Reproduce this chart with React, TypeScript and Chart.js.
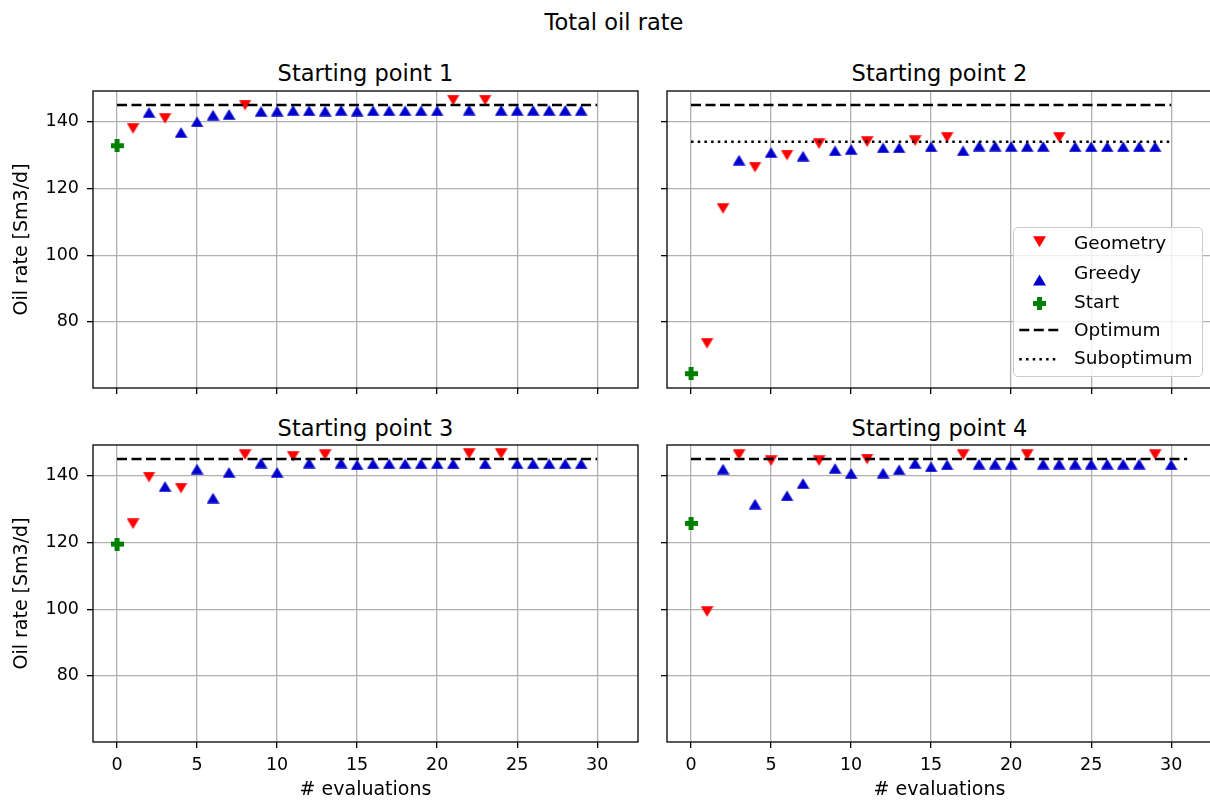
import { useEffect, useRef } from 'react';
import { Chart, registerables } from 'chart.js';

Chart.register(...registerables);

const FONT = '"DejaVu Sans", "Liberation Sans", sans-serif';

// ---- data ----
const figureTitle = 'Total oil rate';
const panelTitles = ['Starting point 1', 'Starting point 2', 'Starting point 3', 'Starting point 4'];
const seriesLabels = ['Geometry', 'Greedy', 'Start', 'Optimum', 'Suboptimum'];
const xAxisLabel = '# evaluations';
const yAxisLabel = 'Oil rate [Sm3/d]';

const xTicks = [0, 5, 10, 15, 20, 25, 30];
const yTicks = [80, 100, 120, 140];
const xLimits = [-1.5, 32.55];
const yLimits = [60.2, 149.2];

const optimumRate = 145.0;
const suboptimumRate = 134.0;

// S = start, G = geometry, R = greedy (one letter per evaluation)
const p1Kinds = 'SGRGRRRRGRRRRRRRRRRRRGRGRRRRRR'.split('');
const p1Values = [132.8, 138.0, 142.8, 141.0, 136.8, 140.0, 142.0, 142.2, 145.0, 143.1, 143.2, 143.4, 143.3, 143.2, 143.4, 143.2, 143.3, 143.3, 143.3, 143.3, 143.3, 146.5, 143.5, 146.5, 143.4, 143.4, 143.4, 143.4, 143.4, 143.4];

const p2Kinds = 'SGGRGRGRGRRGRRGRGRRRRRRGRRRRRR'.split('');
const p2Values = [64.5, 73.6, 114.0, 128.5, 126.4, 130.8, 130.0, 129.7, 133.4, 131.3, 131.7, 134.0, 132.2, 132.2, 134.3, 132.5, 135.3, 131.3, 132.7, 132.7, 132.6, 132.6, 132.6, 135.3, 132.5, 132.5, 132.5, 132.5, 132.5, 132.5];

const p3Kinds = 'SGGRGRRRGRRGRGRRRRRRRRGRGRRRRR'.split('');
const p3Values = [119.5, 125.6, 139.6, 136.8, 136.3, 142.0, 133.3, 141.0, 146.3, 143.8, 141.0, 145.8, 143.8, 146.3, 143.8, 143.3, 143.6, 143.6, 143.6, 143.6, 143.6, 143.6, 146.6, 143.6, 146.6, 143.6, 143.6, 143.6, 143.6, 143.6];

const p4Kinds = 'SGRGRGRRGRRGRRRRRGRRRGRRRRRRRGR'.split('');
const p4Values = [125.7, 99.3, 142.0, 146.3, 131.5, 144.5, 134.0, 137.7, 144.5, 142.2, 140.7, 145.0, 140.8, 141.8, 143.7, 142.7, 143.3, 146.3, 143.5, 143.5, 143.5, 146.3, 143.5, 143.5, 143.5, 143.5, 143.5, 143.5, 143.5, 146.3, 143.3];

// ---- layout / style ----
const RED = '#ff0000';
const BLUE = '#0000cd';
const GREEN = '#008000';
const GRID = '#b0b0b0';

const panels = [
  { values: p1Values, kinds: p1Kinds, sub: null as number | null, left: 0, top: 71, width: 658, height: 337, yw: 93, xh: 20, showX: false, showY: true },
  { values: p2Values, kinds: p2Kinds, sub: suboptimumRate as number | null, left: 647, top: 71, width: 585, height: 337, yw: 20, xh: 20, showX: false, showY: false },
  { values: p3Values, kinds: p3Kinds, sub: null as number | null, left: 0, top: 425, width: 658, height: 376, yw: 93, xh: 59, showX: true, showY: true },
  { values: p4Values, kinds: p4Kinds, sub: null as number | null, left: 647, top: 425, width: 585, height: 376, yw: 20, xh: 59, showX: true, showY: false },
];

function makeMarker(shape: string, color: string): HTMLCanvasElement {
  const c = document.createElement('canvas');
  if (shape === 'plus') {
    c.width = 13; c.height = 13;
  } else {
    c.width = 13; c.height = 11;
  }
  const ctx = c.getContext('2d')!;
  ctx.fillStyle = color;
  if (shape === 'plus') {
    ctx.fillRect(0, 4, 13, 5);
    ctx.fillRect(4, 0, 5, 13);
  } else {
    ctx.beginPath();
    if (shape === 'up') {
      ctx.moveTo(6.5, 0.2); ctx.lineTo(12.8, 10.8); ctx.lineTo(0.2, 10.8);
    } else {
      ctx.moveTo(0.2, 0.2); ctx.lineTo(12.8, 0.2); ctx.lineTo(6.5, 10.8);
    }
    ctx.closePath();
    ctx.fill();
  }
  return c;
}

const framePlugin = {
  id: 'frame',
  afterDraw(chart: any) {
    const { ctx, chartArea } = chart;
    ctx.save();
    ctx.strokeStyle = '#000';
    ctx.lineWidth = 1.3;
    ctx.strokeRect(chartArea.left, chartArea.top, chartArea.right - chartArea.left, chartArea.bottom - chartArea.top);
    ctx.restore();
  },
};

function buildConfig(p: typeof panels[number], markers: Record<string, HTMLCanvasElement>): any {
  const n = p.values.length;
  const pts = (k: string) => p.values.map((v, i) => (p.kinds[i] === k ? { x: i, y: v } : null)).filter(Boolean);
  const datasets: any[] = [
    {
      label: seriesLabels[3],
      data: [{ x: 0, y: optimumRate }, { x: n, y: optimumRate }],
      showLine: true, borderColor: '#000', borderWidth: 2.5, borderDash: [10, 4.5], pointRadius: 0,
    },
  ];
  if (p.sub !== null) {
    datasets.push({
      label: seriesLabels[4],
      data: [{ x: 0, y: p.sub }, { x: n, y: p.sub }],
      showLine: true, borderColor: '#000', borderWidth: 2.5, borderDash: [2.5, 4.2], pointRadius: 0,
    });
  }
  datasets.push(
    { label: seriesLabels[0], data: pts('G'), pointStyle: markers.down, pointRadius: 6, showLine: false, backgroundColor: RED, borderColor: RED },
    { label: seriesLabels[1], data: pts('R'), pointStyle: markers.up, pointRadius: 6, showLine: false, backgroundColor: BLUE, borderColor: BLUE },
    { label: seriesLabels[2], data: pts('S'), pointStyle: markers.plus, pointRadius: 6, showLine: false, backgroundColor: GREEN, borderColor: GREEN },
  );
  return {
    type: 'scatter',
    data: { datasets },
    plugins: [framePlugin],
    options: {
      responsive: false,
      animation: false,
      events: [],
      layout: { padding: { left: 0, top: 20, right: 20, bottom: 0 } },
      plugins: { legend: { display: false }, tooltip: { enabled: false }, title: { display: false } },
      scales: {
        x: {
          type: 'linear',
          min: xLimits[0],
          max: xLimits[1],
          afterBuildTicks: (s: any) => { s.ticks = xTicks.map((v) => ({ value: v })); },
          afterFit: (s: any) => { s.height = p.xh; },
          border: { display: false },
          grid: { color: GRID, lineWidth: 1.3, tickColor: '#000', tickWidth: 1.3, tickLength: 6, drawTicks: true },
          ticks: { display: p.showX, color: '#000', font: { family: FONT, size: 17.5 }, padding: 7, maxRotation: 0, autoSkip: false },
          title: { display: p.showX, text: xAxisLabel, color: '#000', font: { family: FONT, size: 19 }, padding: { top: 0, bottom: 0 } },
        },
        y: {
          type: 'linear',
          min: yLimits[0],
          max: yLimits[1],
          afterBuildTicks: (s: any) => { s.ticks = yTicks.map((v) => ({ value: v })); },
          afterFit: (s: any) => { s.width = p.yw; },
          border: { display: false },
          grid: { color: GRID, lineWidth: 1.3, tickColor: '#000', tickWidth: 1.3, tickLength: 6, drawTicks: true },
          ticks: { display: p.showY, color: '#000', font: { family: FONT, size: 17.5 }, padding: 8, autoSkip: false },
          title: { display: p.showY, text: yAxisLabel, color: '#000', font: { family: FONT, size: 19 }, padding: { top: 11, bottom: 0 } },
        },
      },
    },
  };
}

const textStyle = (cx: number, cy: number, size: number): any => ({
  position: 'absolute',
  left: cx - 300,
  top: cy - 15,
  width: 600,
  height: 30,
  lineHeight: '30px',
  textAlign: 'center',
  fontSize: size,
  fontFamily: FONT,
  color: '#000',
  whiteSpace: 'nowrap',
});

const legendRowStyle = (cy: number): any => ({
  position: 'absolute',
  left: 1074,
  top: cy - 12,
  height: 24,
  lineHeight: '24px',
  fontSize: 18.5,
  fontFamily: FONT,
  color: '#000',
  whiteSpace: 'nowrap',
});

export default function App() {
  const refs = useRef<(HTMLCanvasElement | null)[]>([]);

  useEffect(() => {
    const markers = {
      up: makeMarker('up', BLUE),
      down: makeMarker('down', RED),
      plus: makeMarker('plus', GREEN),
    };
    const charts = panels.map((p, i) => new Chart(refs.current[i] as HTMLCanvasElement, buildConfig(p, markers)));
    return () => charts.forEach((c) => c.destroy());
  }, []);

  const titleCenters = [
    [365.5, 73],
    [939.5, 73],
    [365.5, 427.5],
    [939.5, 427.5],
  ];
  const legendTextY = [243, 273, 301.7, 329.7, 358.3];

  return (
    <div style={{ position: 'fixed', left: 0, top: 0, width: 1210, height: 801, overflow: 'hidden', background: '#fff' }}>
      <div style={textStyle(614, 21.5, 22.5)}>{figureTitle}</div>
      {panelTitles.map((t, i) => (
        <div key={t} style={textStyle(titleCenters[i][0], titleCenters[i][1], 22.5)}>{t}</div>
      ))}
      {panels.map((p, i) => (
        <canvas
          key={i}
          ref={(el) => { refs.current[i] = el; }}
          width={p.width}
          height={p.height}
          style={{ position: 'absolute', left: p.left, top: p.top, width: p.width, height: p.height }}
        />
      ))}
      <div
        style={{
          position: 'absolute', left: 1012.7, top: 227.3, width: 190.6, height: 149.4, boxSizing: 'border-box',
          border: '1.3px solid #cccccc', borderRadius: 5, background: 'rgba(255,255,255,0.8)',
        }}
      />
      <svg style={{ position: 'absolute', left: 1000, top: 220 }} width={80} height={160}>
        <polygon points="33,16.3 46,16.3 39.5,27.3" fill={RED} />
        <polygon points="39.5,54.5 46,65.5 33,65.5" fill={BLUE} />
        <rect x={33} y={81} width={13} height={5} fill={GREEN} />
        <rect x={37} y={77} width={5} height={13} fill={GREEN} />
        <line x1={19.3} y1={110} x2={58.3} y2={110} stroke="#000" strokeWidth={2.5} strokeDasharray="10 4.5" />
        <line x1={19.3} y1={139.3} x2={58.3} y2={139.3} stroke="#000" strokeWidth={2.5} strokeDasharray="2.5 4.2" />
      </svg>
      {seriesLabels.map((t, i) => (
        <div key={t} style={legendRowStyle(legendTextY[i])}>{t}</div>
      ))}
    </div>
  );
}
